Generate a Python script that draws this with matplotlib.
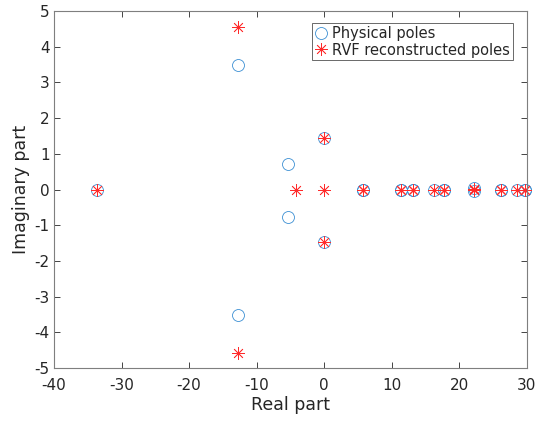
import numpy as np
import matplotlib
matplotlib.use("Agg")
import matplotlib.pyplot as plt

# physical poles (real, imag)
phys_re = [-33.6, -12.8, -12.8, -5.3, -5.3, 0.0, 0.0,
           5.8, 5.8, 11.4, 11.4, 13.2, 13.2, 16.3, 17.8, 17.8,
           22.2, 22.2, 26.2, 26.2, 28.5, 29.7, 29.7]
phys_im = [0.0, 3.5, -3.52, 0.72, -0.76, 1.43, -1.47,
           0.0, 0.0, 0.0, 0.0, 0.0, 0.0, 0.0, 0.0, 0.0,
           0.03, -0.03, 0.0, 0.0, 0.0, 0.0, 0.0]

# RVF reconstructed poles
rvf_re = [-33.6, -12.8, -12.8, -4.2, 0.0, 0.0, 0.0,
          5.8, 5.8, 11.4, 11.4, 13.2, 13.2, 16.3, 17.8, 17.8,
          22.2, 22.2, 26.2, 26.2, 28.5, 29.7, 29.7]
rvf_im = [0.0, 4.55, -4.57, 0.0, 0.0, 1.43, -1.47,
          0.0, 0.0, 0.0, 0.0, 0.0, 0.0, 0.0, 0.0, 0.0,
          0.02, -0.02, 0.0, 0.0, 0.0, 0.0, 0.0]

xticks = np.arange(-40, 31, 10)
yticks = np.arange(-5, 6, 1)

fig = plt.figure(figsize=(5.43, 4.25), dpi=100)
ax = fig.add_axes([0.0994, 0.134, 0.871, 0.840])

dark = "#262626"
ax.plot(phys_re, phys_im, linestyle="none", marker="o", markersize=8.6,
        markerfacecolor="none", markeredgecolor="#3b8fd3", markeredgewidth=0.6,
        clip_on=False, label="Physical poles")
ax.plot(rvf_re, rvf_im, linestyle="none", marker=(8, 2, 0), markersize=9,
        color="#ff2a2a", markeredgewidth=0.55, clip_on=False,
        label="RVF reconstructed poles")

ax.set_xlim(-40, 30)
ax.set_ylim(-5, 5)
ax.set_xticks(xticks)
ax.set_yticks(yticks)
ax.set_xticklabels([str(t) for t in xticks])
ax.set_yticklabels([str(t) for t in yticks])
ax.tick_params(direction="in", length=4, width=0.6, top=True, right=True,
               labelsize=11, colors=dark, labelcolor=dark)
ax.tick_params(axis="x", pad=7)
ax.tick_params(axis="y", pad=3)
for s in ax.spines.values():
    s.set_color("#7f7f7f")
    s.set_linewidth(0.8)

ax.set_xlabel("Real part", fontsize=12.5, color=dark, labelpad=2)
ax.set_ylabel("Imaginary part", fontsize=12.5, color=dark, labelpad=3)

leg = ax.legend(loc="upper right", bbox_to_anchor=(0.970, 0.966), fontsize=10.5,
                frameon=True, fancybox=False, handlelength=0.9, handletextpad=0.3,
                borderpad=0.2, labelspacing=0.1, borderaxespad=0.0)
leg.get_frame().set_edgecolor("#262626")
leg.get_frame().set_linewidth(0.6)
for t in leg.get_texts():
    t.set_color(dark)

fig.savefig("out.png", dpi=100)
